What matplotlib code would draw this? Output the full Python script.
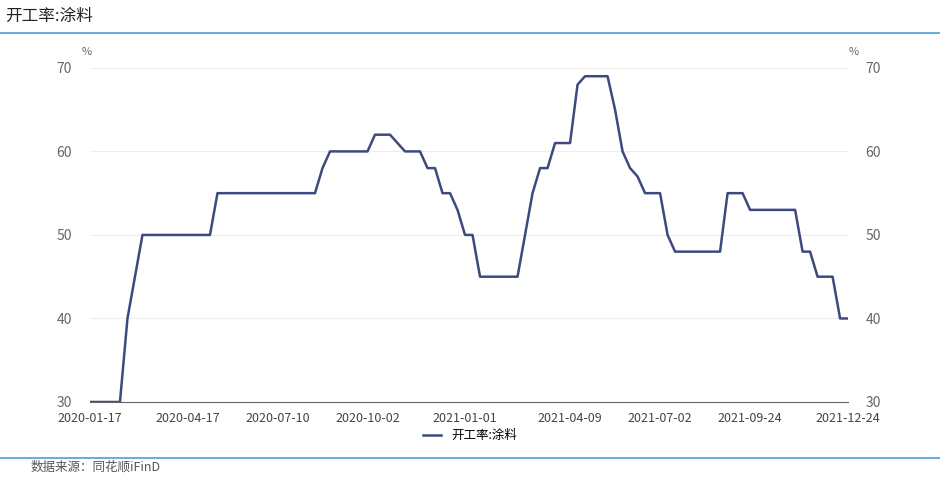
import matplotlib
matplotlib.use("Agg")
import matplotlib.pyplot as plt
import numpy as np
import pandas as pd
import matplotlib.dates as mdates

plt.rcParams['font.family'] = ['Noto Sans CJK SC', 'DejaVu Sans']

start = "2020-01-17"
values = [30,30,30,30,30,40,45,50,50,50,50,50,50,50,50,50,50,55,55,55,55,55,55,55,55,55,55,55,55,55,55,
          58,60,60,60,60,60,60,62,62,62,61,60,60,60,58,58,55,55,53,50,50,45,45,45,45,45,45,50,55,58,58,
          61,61,61,68,69,69,69,69,65,60,58,57,55,55,55,50,48,48,48,48,48,48,48,55,55,55,53,53,53,53,53,
          53,53,48,48,45,45,45,40,40]
dates = pd.date_range(start, periods=len(values), freq="7D")
tick_labels = ["2020-01-17","2020-04-17","2020-07-10","2020-10-02","2021-01-01","2021-04-09","2021-07-02","2021-09-24","2021-12-24"]
yticks = [30,40,50,60,70]

fig = plt.figure(figsize=(9.4,4.78), dpi=100)
ax = fig.add_axes([0.0957,0.159,0.806,0.699])
line_c = "#3d4a7f"
ax.plot(dates, values, color=line_c, lw=1.8, solid_joinstyle='round', label="开工率:涂料")
ax.set_ylim(30,70)
ax.set_xlim(pd.Timestamp("2020-01-17"), pd.Timestamp("2021-12-24"))
ax.set_yticks(yticks)
ax.set_xticks(pd.to_datetime(tick_labels))
ax.set_xticklabels(tick_labels)
ax.grid(axis='y', color='#eeeeee', lw=0.8)
for s in ['top','right','left']:
    ax.spines[s].set_visible(False)
ax.spines['bottom'].set_color('#666666')
ax.tick_params(axis='y', length=0, colors='#666666', labelsize=10, pad=13)
ax.tick_params(axis='x', colors='#444444', labelsize=9, length=0, pad=7)
ax2 = ax.twinx()
ax2.set_ylim(30,70)
ax2.set_yticks(yticks)
for s in ['top','right','left','bottom']:
    ax2.spines[s].set_visible(False)
ax2.tick_params(axis='y', length=0, colors='#666666', labelsize=10, pad=13)
fig.text(0.087,0.885,"%",fontsize=8,color='#666666')
fig.text(0.903,0.885,"%",fontsize=8,color='#666666')
fig.text(0.005,0.965,"开工率:涂料",fontsize=12,color='#222222',va='center')
fig.add_artist(plt.Line2D([0,1],[0.931,0.931],color='#4a9fd8',lw=1.2))
fig.add_artist(plt.Line2D([0,1],[0.042,0.042],color='#4a9fd8',lw=1.2))
fig.text(0.032,0.022,"数据来源：同花顺iFinD",fontsize=9,color='#555555',va='center')
fig.legend(loc='center', bbox_to_anchor=(0.5,0.088), frameon=False, fontsize=9, handlelength=1.5)
fig.savefig("out.png", dpi=100)
